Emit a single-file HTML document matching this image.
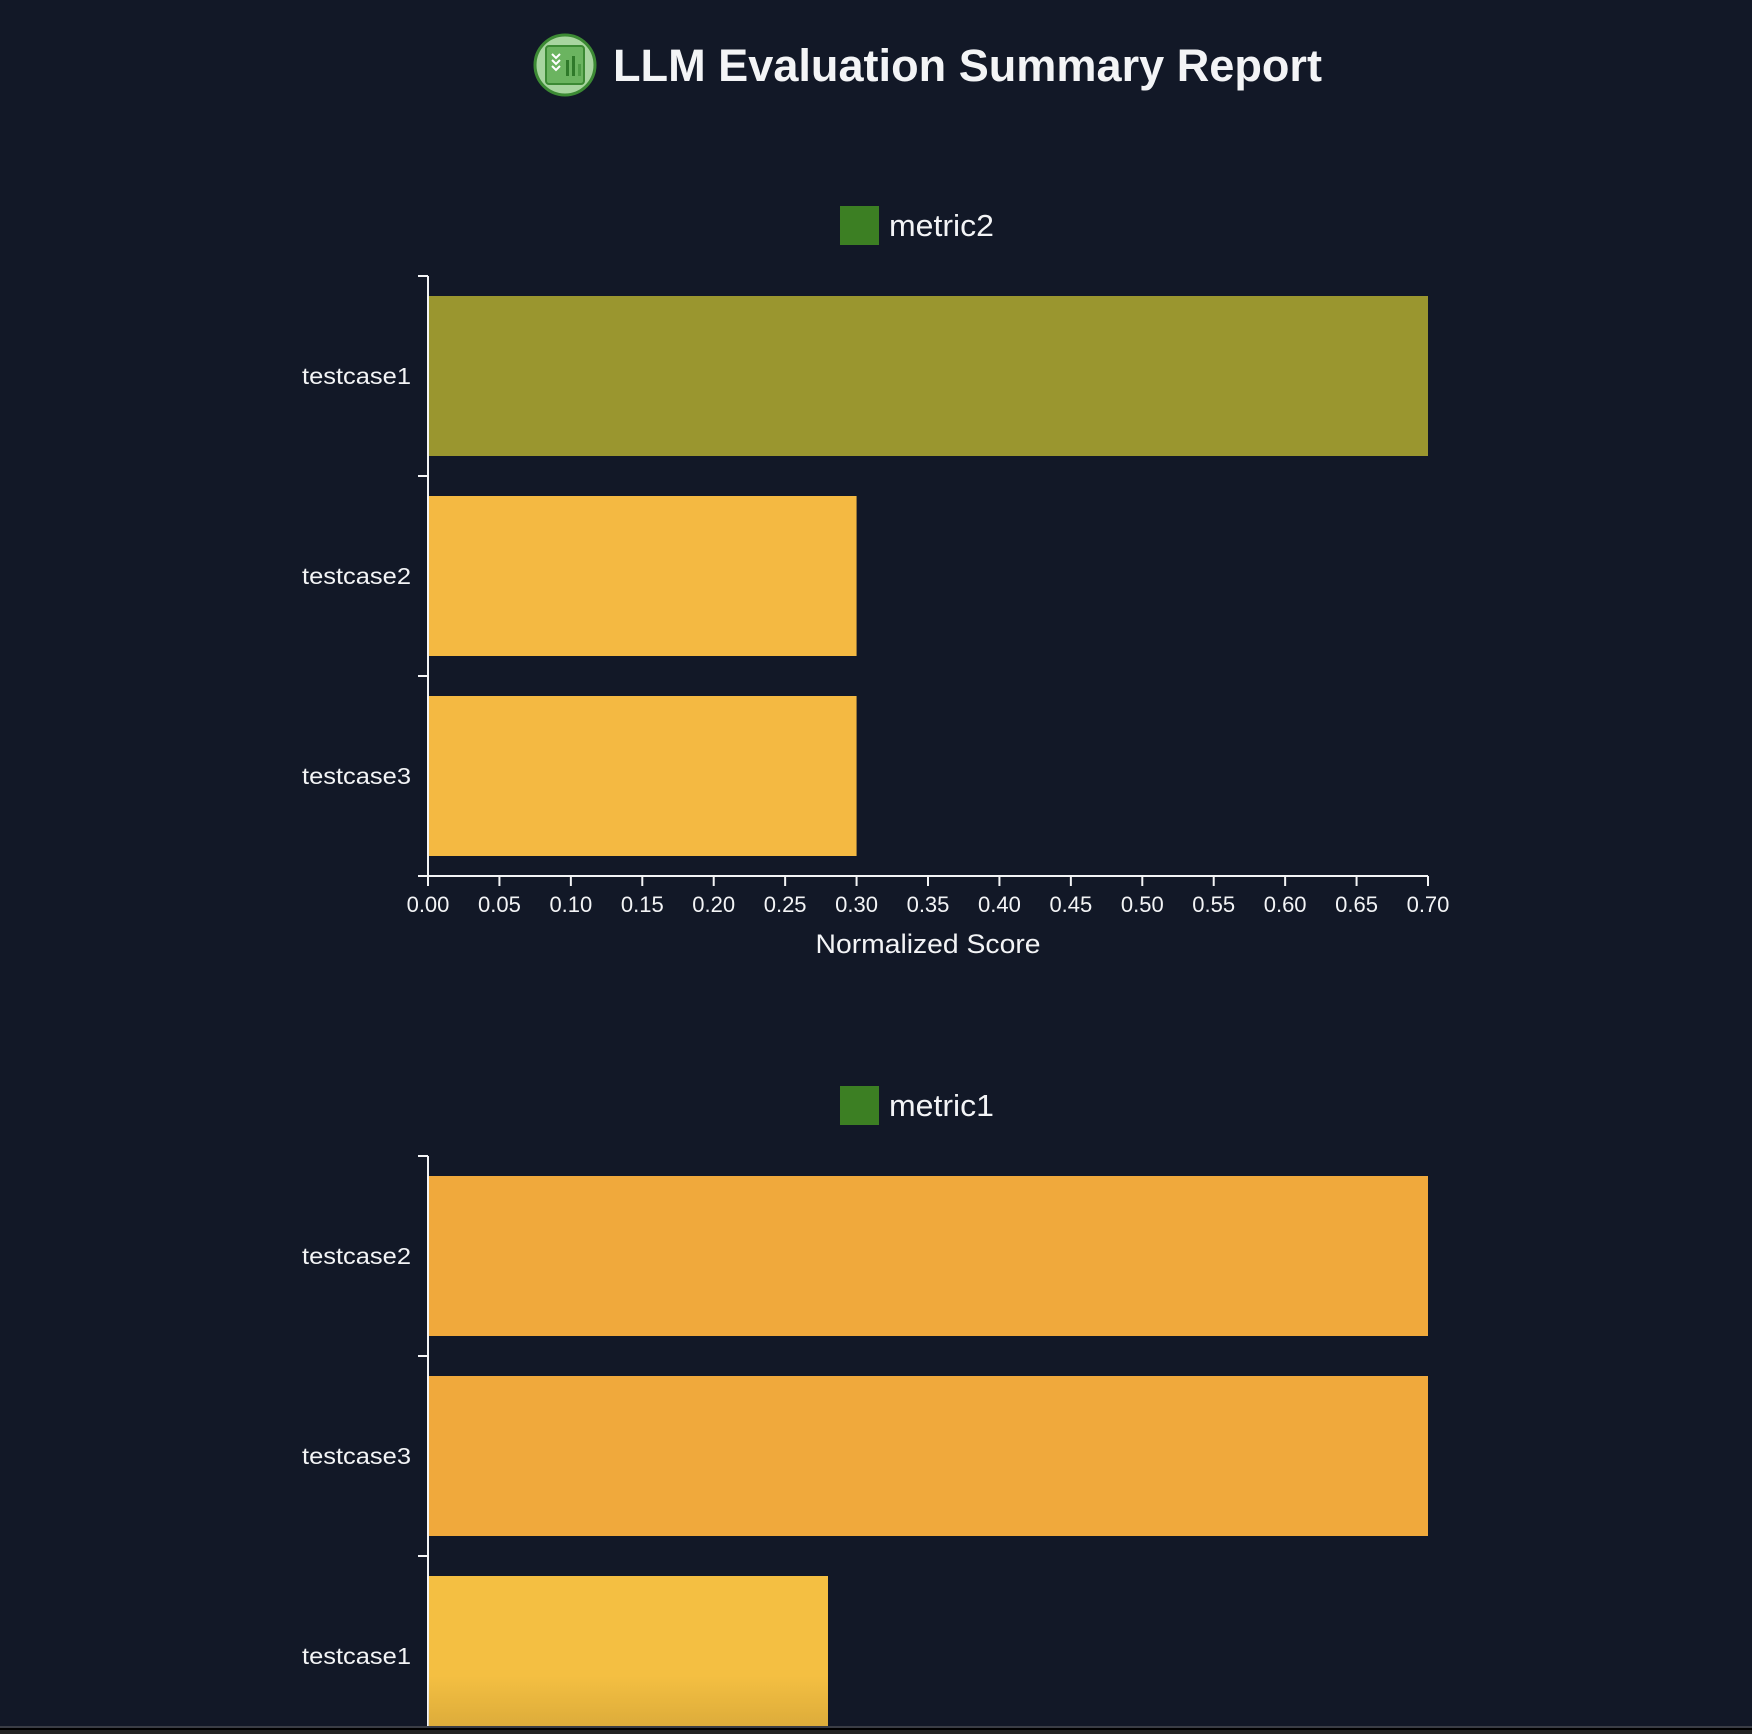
<!DOCTYPE html>
<html><head><meta charset="utf-8"><style>
html,body{margin:0;padding:0;background:#121827;}
svg{display:block;}
text{font-family:"Liberation Sans",sans-serif;}
</style></head><body>
<svg id="s" width="1752" height="1734" viewBox="0 0 1752 1734" xmlns="http://www.w3.org/2000/svg">
<defs><linearGradient id="fade" x1="0" y1="0" x2="0" y2="1"><stop offset="0" stop-color="#8a6a20" stop-opacity="0"/><stop offset="1" stop-color="#8a6a20" stop-opacity="0.22"/></linearGradient></defs>
<rect width="1752" height="1734" fill="#121827"/>
<g>
<circle cx="565" cy="65" r="30" fill="#a8d5a0" stroke="#3c8a34" stroke-width="3"/>
<rect x="546" y="46" width="38" height="38" rx="3" fill="#6bb460" stroke="#3c8a34" stroke-width="2"/>
<path d="M552 54l4 4 4-4M552 60l4 4 4-4M552 66l4 4 4-4" stroke="#fff" stroke-width="2" fill="none"/>
<rect x="566" y="60" width="3" height="16" fill="#2f7a2a"/><rect x="572" y="56" width="3" height="20" fill="#2f7a2a"/><rect x="578" y="64" width="3" height="12" fill="#4d9b45"/>
</g>
<text x="613" y="81" font-size="45" font-weight="bold" fill="#f3f4f6" textLength="709" lengthAdjust="spacingAndGlyphs">LLM Evaluation Summary Report</text>
<g id="c1"></g>
<g id="c2"></g>
<rect x="428" y="1676" width="400" height="50" fill="url(#fade)"/>
<rect x="0" y="1726" width="1752" height="2" fill="#3a3d45"/>
<rect x="0" y="1728" width="1752" height="2" fill="#000"/>
<rect x="0" y="1730" width="1752" height="4" fill="#222"/>
</svg>
<script>
const metric2Categories=["testcase1","testcase2","testcase3"];
const metric2Values=[0.7,0.3,0.3];
const metric1Categories=["testcase2","testcase3","testcase1"];
const metric1Values=[0.7,0.7,0.28];
const xTicks=[0,0.05,0.1,0.15,0.2,0.25,0.3,0.35,0.4,0.45,0.5,0.55,0.6,0.65,0.7];
const NS="http://www.w3.org/2000/svg";
function mk(p,tag,a){const e=document.createElementNS(NS,tag);for(const k in a)e.setAttribute(k,a[k]);p.appendChild(e);return e;}
function colorFor(v,idx,chart){
  if(chart===1) return v>=0.7?"#9a962f":"#f4b942";
  return v>=0.7?"#f0a93c":"#f4bf42";
}
function draw(g,name,cats,vals,top,chart,showX){
  const x0=428,x1=1428,xmax=0.7,band=200;
  const xs=v=>x0+(v/xmax)*(x1-x0);
  const ys=i=>top+i*band;
  const leg=mk(g,"rect",{x:840,y:top-70,width:39,height:39,fill:"#3c7f23"});
  
  
  const lt=mk(g,"text",{x:889,y:top-40,"font-size":"31",fill:"#f3f4f6",textLength:105,lengthAdjust:"spacingAndGlyphs"});lt.textContent=name;
  
  
  cats.forEach((c,i)=>{
    const b=mk(g,"rect",{x:x0,y:ys(i)+20,width:xs(vals[i])-x0,height:160,fill:colorFor(vals[i],i,chart)});
    
    
    const t=mk(g,"text",{x:411,y:ys(i)+108,"font-size":"23","text-anchor":"end",fill:"#f3f4f6",textLength:109,lengthAdjust:"spacingAndGlyphs"});t.textContent=c;
    
    
  });
  const n=cats.length;
  const ax=mk(g,"line",{x1:x0,y1:top,x2:x0,y2:top+n*band,stroke:"#f3f4f6","stroke-width":2});
  
  
  for(let i=0;i<=n;i++){
    const tk=mk(g,"line",{x1:x0-10,y1:ys(i),x2:x0,y2:ys(i),stroke:"#f3f4f6","stroke-width":2});
    
    
  }
  if(showX){
    const yb=top+n*band;
    const xa=mk(g,"line",{x1:x0,y1:yb,x2:x1,y2:yb,stroke:"#f3f4f6","stroke-width":2});
    
    
    xTicks.forEach(v=>{
      const tk=mk(g,"line",{x1:xs(v),y1:yb,x2:xs(v),y2:yb+10,stroke:"#f3f4f6","stroke-width":2});
      
      
      const tl=mk(g,"text",{x:xs(v),y:yb+36,"font-size":"22","text-anchor":"middle",fill:"#f3f4f6"});tl.textContent=v.toFixed(2);
      
      
    });
    const at=mk(g,"text",{x:(x0+x1)/2,y:yb+77,"font-size":"27","text-anchor":"middle",fill:"#f3f4f6",textLength:225,lengthAdjust:"spacingAndGlyphs"});at.textContent="Normalized Score";
    
    
  }
}
draw(document.getElementById("c1"),"metric2",metric2Categories,metric2Values,276,1,true);
draw(document.getElementById("c2"),"metric1",metric1Categories,metric1Values,1156,2,false);
</script>
</body></html>
